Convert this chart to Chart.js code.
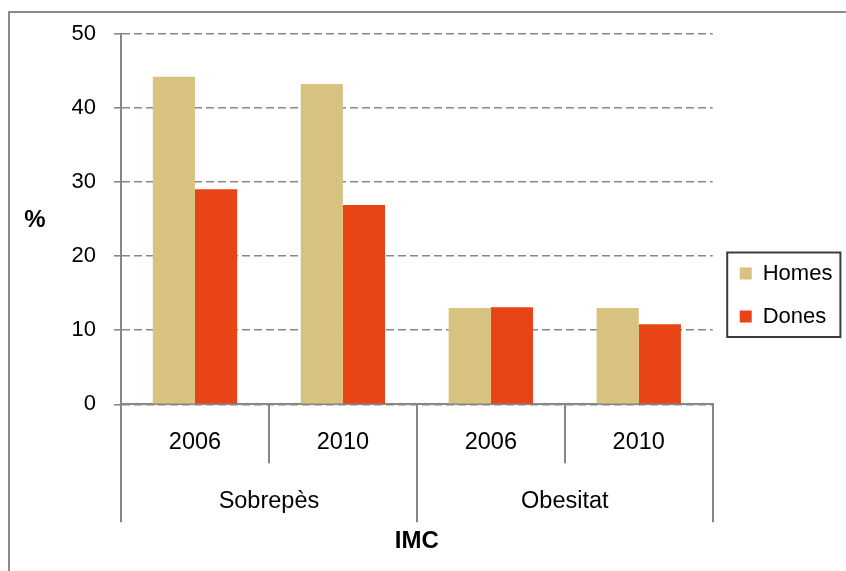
<!DOCTYPE html>
<html>
<head>
<meta charset="utf-8">
<script src="https://cdn.jsdelivr.net/npm/chart.js@4/dist/chart.umd.min.js"></script>
<style>
  html, body { margin: 0; padding: 0; background: #fff; }
  #wrap { position: relative; width: 846px; height: 571px; overflow: hidden; }
  #frame { position: absolute; left: 8px; top: 11px; width: 900px; height: 600px;
           border-left: 2px solid #8a8a8a; border-top: 2px solid #8a8a8a; }
  #chart { position: absolute; left: 0; top: 0; }
</style>
</head>
<body>
<div id="wrap">
  <div id="frame"></div>
  <canvas id="chart" width="846" height="571"></canvas>
</div>
<script>
// values
const years = ['2006', '2010', '2006', '2010'];
const groups = ['Sobrepès', 'Obesitat'];
const homes = [44.2, 43.2, 13.0, 13.0];
const dones = [29.0, 26.9, 13.1, 10.8];
const yMin = 0;
const yMax = 50;
const yStep = 10;
const yTitle = '%';
const xTitle = 'IMC';

const gray = '#878787';
Chart.defaults.font.family = '"Liberation Sans", Arial, sans-serif';
Chart.defaults.color = '#000';

// upright "%" next to the value axis
const yTitlePlugin = {
  id: 'yTitle',
  afterDraw(chart) {
    const { ctx, chartArea } = chart;
    ctx.save();
    ctx.font = 'bold 24px "Liberation Sans", Arial, sans-serif';
    ctx.fillStyle = '#000';
    ctx.textAlign = 'center';
    ctx.textBaseline = 'middle';
    ctx.fillText(yTitle, 35, (chartArea.top + chartArea.bottom) / 2 + 1);
    ctx.restore();
  }
};

// frame round the legend
const legendBox = {
  id: 'legendBox',
  afterDraw(chart) {
    const boxes = chart.legend.legendHitBoxes;
    if (!boxes || !boxes.length) return;
    const first = boxes[0];
    const last = boxes[boxes.length - 1];
    const right = Math.max(...boxes.map((b) => b.left + b.width));
    const ctx = chart.ctx;
    ctx.save();
    ctx.strokeStyle = '#3c3c3c';
    ctx.lineWidth = 2;
    ctx.strokeRect(first.left - 12.5, first.top - 10,
      right - first.left + 20.5, last.top + last.height - first.top + 19.5);
    ctx.restore();
  }
};

const ctx = document.getElementById('chart').getContext('2d');

new Chart(ctx, {
  type: 'bar',
  data: {
    labels: years,
    datasets: [
      {
        label: 'Homes',
        data: homes,
        backgroundColor: '#d8c280',
        borderWidth: 0,
        xAxisID: 'x',
        yAxisID: 'y',
      },
      {
        label: 'Dones',
        data: dones,
        backgroundColor: '#e84416',
        borderWidth: 0,
        xAxisID: 'x',
        yAxisID: 'y',
      },
    ],
  },
  options: {
    responsive: false,
    animation: false,
    events: [],
    layout: { padding: { top: 33.7, bottom: 14.7, left: 0, right: 3.6 } },
    datasets: {
      bar: { categoryPercentage: 0.57, barPercentage: 1 },
    },
    scales: {
      x: {
        type: 'category',
        position: 'bottom',
        weight: 0,
        offset: true,
        grid: { offset: true, drawOnChartArea: false, tickLength: 59, color: gray, lineWidth: 2 },
        border: { display: true, color: gray, width: 2 },
        ticks: { font: { size: 23.5 }, color: '#000', padding: -35, maxRotation: 0, minRotation: 0, autoSkip: false },
        afterFit: (s) => { s.height = 59; },
      },
      x2: {
        type: 'category',
        position: 'bottom',
        weight: 1,
        labels: groups,
        offset: true,
        grid: { offset: true, drawOnChartArea: false, tickLength: 59, color: gray, lineWidth: 2 },
        border: { display: false },
        ticks: { font: { size: 23.5 }, color: '#000', padding: -35, maxRotation: 0, minRotation: 0, autoSkip: false },
        title: {
          display: true,
          text: xTitle,
          color: '#000',
          font: { size: 24, weight: 'bold' },
          padding: { top: 0, bottom: 1 },
        },
        afterFit: (s) => { s.height = 93; },
      },
      y: {
        type: 'linear',
        position: 'left',
        min: yMin,
        max: yMax,
        grid: { color: gray, lineWidth: 1.6, tickLength: 7, tickBorderDash: [] },
        border: { display: true, color: gray, width: 2, dash: [8, 4] },
        ticks: { stepSize: yStep, font: { size: 22 }, color: '#000', padding: 18 },
        afterFit: (s) => { s.width = 121; },
      },
      y2: {
        type: 'linear',
        position: 'right',
        grid: { display: false, drawTicks: false },
        border: { display: false },
        ticks: { display: false },
        afterFit: (s) => { s.width = 6; },
      },
    },
    plugins: {
      tooltip: { enabled: false },
      legend: {
        position: 'right',
        align: 'center',
        labels: {
          boxWidth: 12,
          boxHeight: 12,
          padding: 21,
          color: '#000',
          font: { size: 22 },
        },
      },
    },
  },
  plugins: [yTitlePlugin, legendBox],
});
</script>
</body>
</html>
